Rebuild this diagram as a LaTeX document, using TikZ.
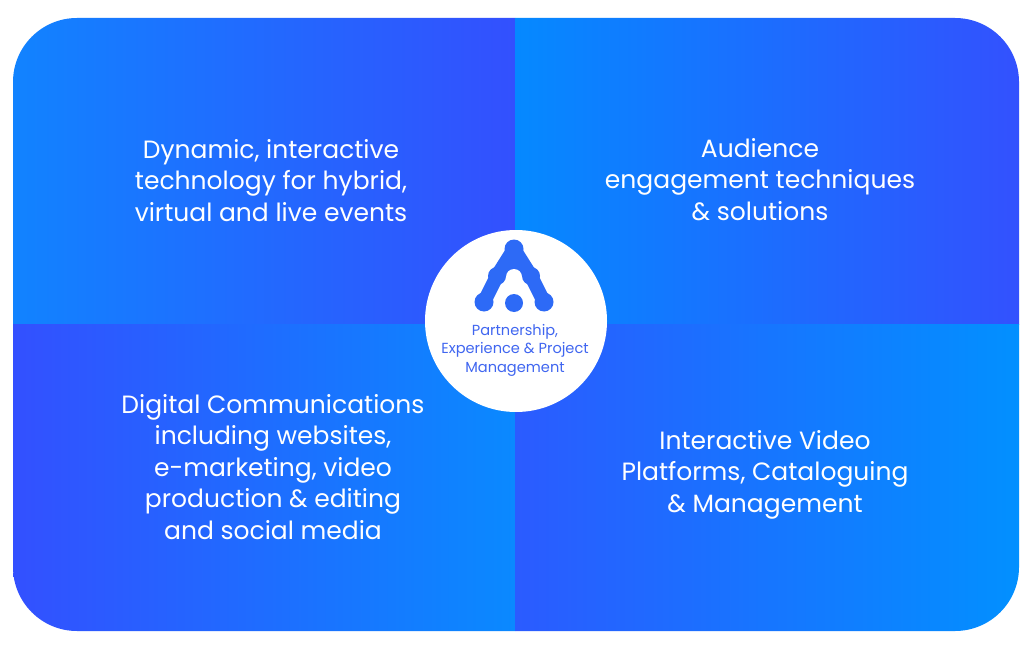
\documentclass[tikz,border=0pt]{standalone}
\usepackage{fontspec}
\setmainfont{Poppins}
\definecolor{tlL}{HTML}{1183FF}
\definecolor{tlR}{HTML}{3350FE}
\definecolor{trL}{HTML}{0589FF}
\definecolor{trR}{HTML}{3351FE}
\definecolor{blL}{HTML}{3350FF}
\definecolor{blR}{HTML}{0A89FF}
\definecolor{brL}{HTML}{2B5BFF}
\definecolor{brR}{HTML}{0290FF}
\definecolor{logoc}{HTML}{2D6AF6}
\definecolor{hubblue}{HTML}{4066F0}
\tikzset{
  quadtext/.style={anchor=base, text=white, inner sep=0pt,
    font=\fontsize{25}{31.5}\selectfont},
  hubtext/.style={anchor=base, text=hubblue, inner sep=0pt,
    font=\fontsize{14.6}{18.7}\selectfont},
  logoline/.style={draw=logoc, line width=14pt, line cap=round, line join=round}
}
\begin{document}
\begin{tikzpicture}[x=1pt,y=-1pt]
\useasboundingbox (0,0) rectangle (1030,647);
\fill[white] (0,0) rectangle (1030,647);
\begin{scope}
  \clip[rounded corners=64pt] (13,18) rectangle (1019,631);
  \shade[left color=tlL, right color=tlR] (12,17) rectangle (515,324);
  \shade[left color=trL, right color=trR] (515,17) rectangle (1020,324);
  \shade[left color=blL, right color=blR] (12,324) rectangle (515,632);
  \shade[left color=brL, right color=brR] (515,324) rectangle (1020,632);
\end{scope}
\node (tl) [quadtext] at (271,158.3) {\begin{tabular}[t]{@{}c@{}}Dynamic, interactive\\technology for hybrid,\\virtual and live events\end{tabular}};
\node (tr) [quadtext] at (760,157.3) {\begin{tabular}[t]{@{}c@{}}Audience\\engagement techniques\\\& solutions\end{tabular}};
\node (bl) [quadtext] at (273,413.3) {\begin{tabular}[t]{@{}c@{}}Digital Communications\\including websites,\\e-marketing, video\\production \& editing\\and social media\end{tabular}};
\node (br) [quadtext] at (765,449) {\begin{tabular}[t]{@{}c@{}}Interactive Video\\Platforms, Cataloguing\\\& Management\end{tabular}};
\node (hub) [circle, fill=white, minimum size=182pt, inner sep=0pt] at (516,321) {};
\coordinate (lb) at (484,302);
\coordinate (lm) at (497,276);
\coordinate (lt) at (514,249);
\coordinate (rm) at (531,276);
\coordinate (rb) at (544,302);
\fill[logoc] (lt) -- (lm) -- (rm) -- cycle;
\draw[logoline] (lb) -- (lm) -- (lt) -- (rm) -- (rb);
\fill[logoc] (lt) circle (9.5pt) (lm) circle (9pt) (rm) circle (9pt)
  (lb) circle (9.5pt) (rb) circle (9.5pt);
\fill[white] (514,277) circle (8pt);
\fill[logoc] (514,303) circle (9pt);
\node (hubtxt) [hubtext] at (515,335) {\begin{tabular}[t]{@{}c@{}}Partnership,\\Experience \& Project\\Management\end{tabular}};
\end{tikzpicture}
\end{document}
